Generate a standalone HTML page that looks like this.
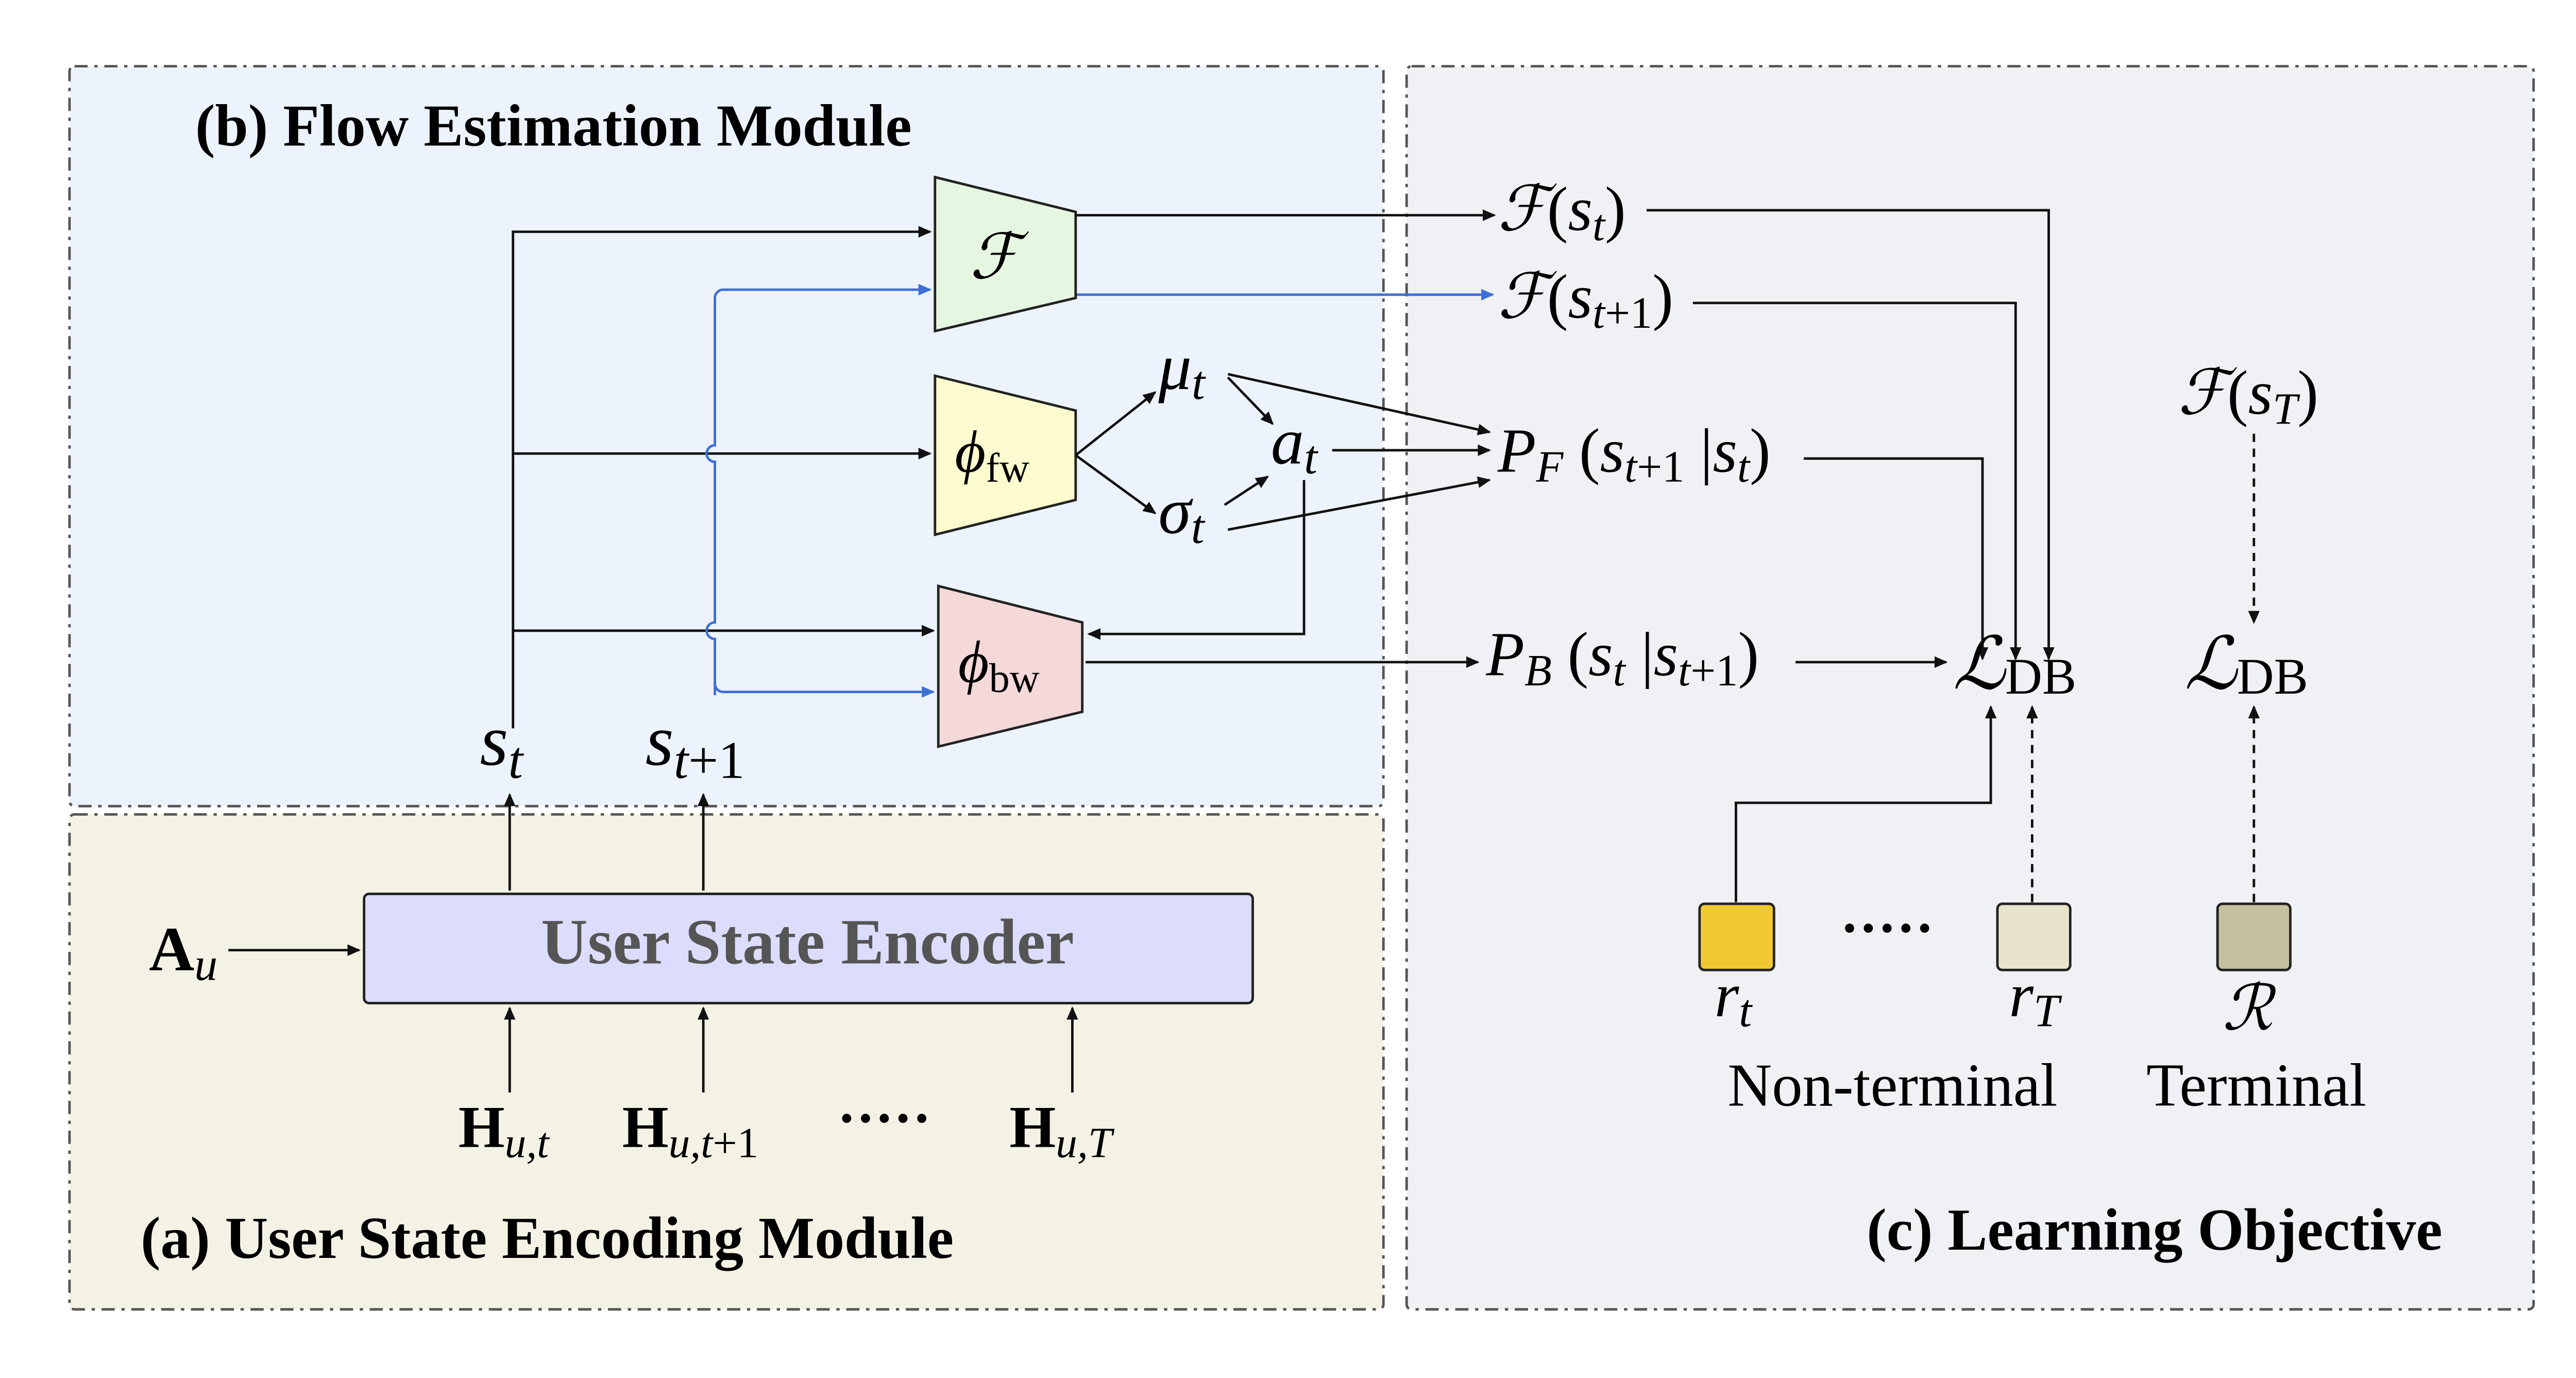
<!DOCTYPE html>
<html><head><meta charset="utf-8"><style>
html,body{margin:0;padding:0;background:#fff}
svg{display:block}
text{font-family:"Liberation Serif",serif}
.it{font-style:italic}
.b{font-weight:bold}
</style></head><body>
<svg width="5036" height="2674" viewBox="0 0 1560 828.3" xmlns="http://www.w3.org/2000/svg">
<defs>
<marker id="ah" markerWidth="8" markerHeight="8" refX="7" refY="4" orient="auto" markerUnits="userSpaceOnUse"><path d="M0,0.5 L8,4 L0,7.5 z" fill="#111"/></marker>
<marker id="ahb" markerWidth="8" markerHeight="8" refX="7" refY="4" orient="auto" markerUnits="userSpaceOnUse"><path d="M0,0.5 L8,4 L0,7.5 z" fill="#3d6fd6"/></marker>
</defs>
<g transform="scale(0.995)">
<g stroke="#555" stroke-width="1.5" stroke-dasharray="8,4,2,4">
<rect x="42" y="40" width="794" height="447" rx="3" fill="#ecf3fc"/>
<rect x="42" y="492" width="794" height="299" rx="3" fill="#f4f2e4"/>
<rect x="850" y="40" width="681" height="751" rx="3" fill="#f0f1f4"/>
</g>
<text class="b" x="118" y="88" font-size="36">(b) Flow Estimation Module</text>
<text class="b" x="85" y="760" font-size="36">(a) User State Encoding Module</text>
<text class="b" x="1128" y="755" font-size="36">(c) Learning Objective</text>

<rect x="220" y="540" width="537" height="66" rx="3" fill="#dcdcfc" stroke="#222" stroke-width="1.5"/>
<text class="b" x="488" y="582" font-size="39" fill="#555" text-anchor="middle">User State Encoder</text>

<g fill="none" stroke="#111" stroke-width="1.5">
<line x1="138" y1="574" x2="217" y2="574" marker-end="url(#ah)"/>
<line x1="308" y1="660" x2="308" y2="609" marker-end="url(#ah)"/>
<line x1="425" y1="660" x2="425" y2="609" marker-end="url(#ah)"/>
<line x1="648" y1="660" x2="648" y2="609" marker-end="url(#ah)"/>
<line x1="308" y1="538" x2="308" y2="480" marker-end="url(#ah)"/>
<line x1="425" y1="538" x2="425" y2="480" marker-end="url(#ah)"/>
<path d="M310,440 V140 H562" marker-end="url(#ah)"/>
<path d="M310,274 H562" marker-end="url(#ah)"/>
<path d="M310,381 H564" marker-end="url(#ah)"/>
</g>
<g fill="none" stroke="#3d6fd6" stroke-width="1.5">
<path d="M432,420 V386 a5,5 0 0 1 0,-10 V279 a5,5 0 0 1 0,-10 V180 a5,5 0 0 1 5,-5 H562" marker-end="url(#ahb)"/>
<path d="M432,413 a5,5 0 0 0 5,5 H564" marker-end="url(#ahb)"/>
<path d="M650,178 H902" marker-end="url(#ahb)"/>
</g>

<polygon points="565,107 650,128 650,180 565,200" fill="#e6f7e1" stroke="#222" stroke-width="1.5"/>
<text class="it" x="586" y="168" font-size="38">ℱ</text>
<polygon points="565,227 650,248 650,302 565,323" fill="#fbfbcf" stroke="#222" stroke-width="1.5"/>
<text x="577" y="285" font-size="36"><tspan class="it">ϕ</tspan><tspan font-size="25" dy="6">fw</tspan></text>
<polygon points="567,354 654,376 654,430 567,451" fill="#f5d8d8" stroke="#222" stroke-width="1.5"/>
<text x="579" y="412" font-size="36"><tspan class="it">ϕ</tspan><tspan font-size="25" dy="6">bw</tspan></text>

<g fill="none" stroke="#111" stroke-width="1.5">
<line x1="650" y1="130" x2="903" y2="130" marker-end="url(#ah)"/>
<line x1="650" y1="275" x2="698" y2="237" marker-end="url(#ah)"/>
<line x1="650" y1="275" x2="698" y2="310" marker-end="url(#ah)"/>
<line x1="742" y1="228" x2="769" y2="256" marker-end="url(#ah)"/>
<line x1="740" y1="305" x2="766" y2="288" marker-end="url(#ah)"/>
<line x1="742" y1="226" x2="900" y2="261" marker-end="url(#ah)"/>
<line x1="805" y1="272" x2="900" y2="272" marker-end="url(#ah)"/>
<line x1="742" y1="320" x2="900" y2="290" marker-end="url(#ah)"/>
<path d="M788,290 V383 H658" marker-end="url(#ah)"/>
<line x1="656" y1="400" x2="893" y2="400" marker-end="url(#ah)"/>
<path d="M995,127 H1238 V398" marker-end="url(#ah)"/>
<path d="M1023,183 H1218 V398" marker-end="url(#ah)"/>
<path d="M1090,277 H1198 V398" marker-end="url(#ah)"/>
<line x1="1085" y1="400" x2="1176" y2="400" marker-end="url(#ah)"/>
<path d="M1049,545 V485 H1203 V427" marker-end="url(#ah)"/>
<line x1="1228" y1="545" x2="1228" y2="427" stroke-dasharray="5,4" marker-end="url(#ah)"/>
<line x1="1362" y1="545" x2="1362" y2="427" stroke-dasharray="5,4" marker-end="url(#ah)"/>
<line x1="1362" y1="262" x2="1362" y2="376" stroke-dasharray="5,4" marker-end="url(#ah)"/>
</g>

<g font-size="36">
<text x="90" y="586" class="b" font-size="38">A<tspan class="it" font-weight="normal" font-size="28" dy="6">u</tspan></text>
<text x="277" y="693" class="b" font-size="36">H<tspan class="it" font-weight="normal" font-size="26" dy="6">u,t</tspan></text>
<text x="376" y="693" class="b" font-size="36">H<tspan class="it" font-weight="normal" font-size="26" dy="6">u,t</tspan><tspan font-weight="normal" font-size="26">+1</tspan></text>
<text x="506" y="687" font-size="34" class="b">·····</text>
<text x="610" y="693" class="b" font-size="36">H<tspan class="it" font-weight="normal" font-size="26" dy="6">u,T</tspan></text>
<text x="290" y="462" font-size="44" class="it">s<tspan font-size="32" dy="8">t</tspan></text>
<text x="390" y="462" font-size="44" class="it">s<tspan font-size="32" dy="8">t</tspan><tspan font-style="normal" font-size="32">+1</tspan></text>
<text x="700" y="235" font-size="40" class="it">μ<tspan font-size="29" dy="6">t</tspan></text>
<text x="768" y="280" font-size="40" class="it">a<tspan font-size="29" dy="6">t</tspan></text>
<text x="700" y="322" font-size="40" class="it">σ<tspan font-size="29" dy="6">t</tspan></text>
<text x="905" y="139" font-size="38"><tspan class="it">ℱ</tspan>(<tspan class="it">s<tspan font-size="27" dy="6">t</tspan></tspan><tspan dy="-6">)</tspan></text>
<text x="905" y="192" font-size="38"><tspan class="it">ℱ</tspan>(<tspan class="it">s<tspan font-size="27" dy="6">t</tspan></tspan><tspan font-size="27">+1</tspan><tspan dy="-6">)</tspan></text>
<text x="905" y="285" font-size="38"><tspan class="it">P<tspan font-size="27" dy="6">F</tspan></tspan><tspan dy="-6">  (</tspan><tspan class="it">s<tspan font-size="27" dy="6">t</tspan></tspan><tspan font-size="27">+1</tspan><tspan dy="-6"> |</tspan><tspan class="it">s<tspan font-size="27" dy="6">t</tspan></tspan><tspan dy="-6">)</tspan></text>
<text x="898" y="408" font-size="38"><tspan class="it">P<tspan font-size="27" dy="6">B</tspan></tspan><tspan dy="-6">  (</tspan><tspan class="it">s<tspan font-size="27" dy="6">t</tspan></tspan><tspan dy="-6"> |</tspan><tspan class="it">s<tspan font-size="27" dy="6">t</tspan></tspan><tspan font-size="27">+1</tspan><tspan dy="-6">)</tspan></text>
<text x="1180" y="416" font-size="44"><tspan class="it">ℒ</tspan><tspan font-size="31" dy="3">DB</tspan></text>
<text x="1320" y="416" font-size="44"><tspan class="it">ℒ</tspan><tspan font-size="31" dy="3">DB</tspan></text>
<text x="1316" y="250" font-size="38"><tspan class="it">ℱ</tspan>(<tspan class="it">s<tspan font-size="27" dy="6">T</tspan></tspan><tspan dy="-6">)</tspan></text>
</g>

<rect x="1027" y="546" width="45" height="40" rx="3" fill="#f0c832" stroke="#222" stroke-width="1.5"/>
<rect x="1207" y="546" width="44" height="40" rx="3" fill="#e8e3cc" stroke="#222" stroke-width="1.5"/>
<rect x="1340" y="546" width="44" height="40" rx="3" fill="#c5c0a0" stroke="#222" stroke-width="1.5"/>
<text x="1112" y="572" font-size="34" class="b">·····</text>
<text x="1036" y="614" font-size="38" class="it">r<tspan font-size="28" dy="6">t</tspan></text>
<text x="1214" y="614" font-size="38" class="it">r<tspan font-size="28" dy="6">T</tspan></text>
<text x="1343" y="622" font-size="38" class="it">ℛ</text>
<text x="1044" y="668" font-size="37">Non-terminal</text>
<text x="1297" y="668" font-size="37">Terminal</text>
</g>
</svg>
</body></html>
